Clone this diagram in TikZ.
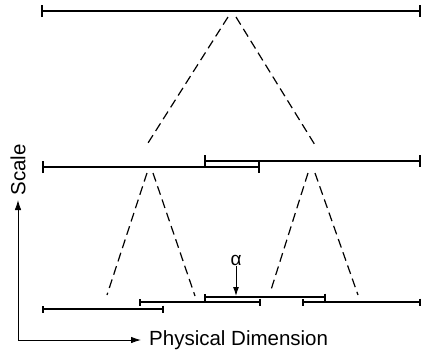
\documentclass[tikz,border=0pt]{standalone}
\usepackage{fontspec}
\setmainfont{Liberation Sans}
\usepackage{tikz}
\usetikzlibrary{arrows.meta, positioning}
\tikzset{
  span/.style={{Bar[width=12pt,line width=1.8pt]}-{Bar[width=12pt,line width=1.8pt]}, line width=1.8pt},
  smallspan/.style={{Bar[width=7pt,line width=1.8pt]}-{Bar[width=7pt,line width=1.8pt]}, line width=1.8pt},
  cone/.style={dashed, dash pattern=on 9pt off 5pt, line width=1.2pt},
  axis/.style={-{Latex[length=10pt,width=6.5pt]}, line width=0.9pt},
  lbl/.style={font=\fontsize{20.5}{24}\selectfont, inner sep=0pt},
}
\begin{document}
\begin{tikzpicture}[x=1pt, y=-1pt]
    \useasboundingbox (0,0) rectangle (423,349);
    % coarsest scale
    \draw[span] (41,11) -- (421,11);
    \draw[cone] (228,17) -- (148,143);
    \draw[cone] (236,17) -- (315,145);
    % middle scale
    \draw[span] (42,167) -- (260,167);
    \draw[span] (204,161) -- (421,161);
    \draw[cone] (147,173) -- (107,295);
    \draw[cone] (153,173) -- (195,296);
    \draw[cone] (308,173) -- (270,293);
    \draw[cone] (315,173) -- (358,295);
    % finest scale
    \draw[smallspan] (42,309) -- (164,309);
    \draw[smallspan] (139,302) -- (261,302);
    \draw[smallspan] (204,297) -- (326,297);
    \draw[smallspan] (302,302) -- (421,302);
    \node[font=\fontsize{19}{22}\selectfont, inner sep=1pt] (alpha) at (236,260) {α};
    \coordinate (alphatip) at (236,296);
    \draw[-{Latex[length=9pt,width=6pt]}, line width=1pt] (alpha) -- (alphatip);
    % axes
    \coordinate (origin) at (18,340);
    \coordinate (scaletop) at (18,200);
    \coordinate (dimend) at (141,340);
    \draw[axis] (origin) -- (scaletop);
    \draw[axis] (origin) -- (dimend);
    \node[lbl, rotate=90] (scale) at (18,170) {Scale};
    \node[lbl, anchor=west] (dim) at (149,340) {Physical Dimension};
\end{tikzpicture}
\end{document}
